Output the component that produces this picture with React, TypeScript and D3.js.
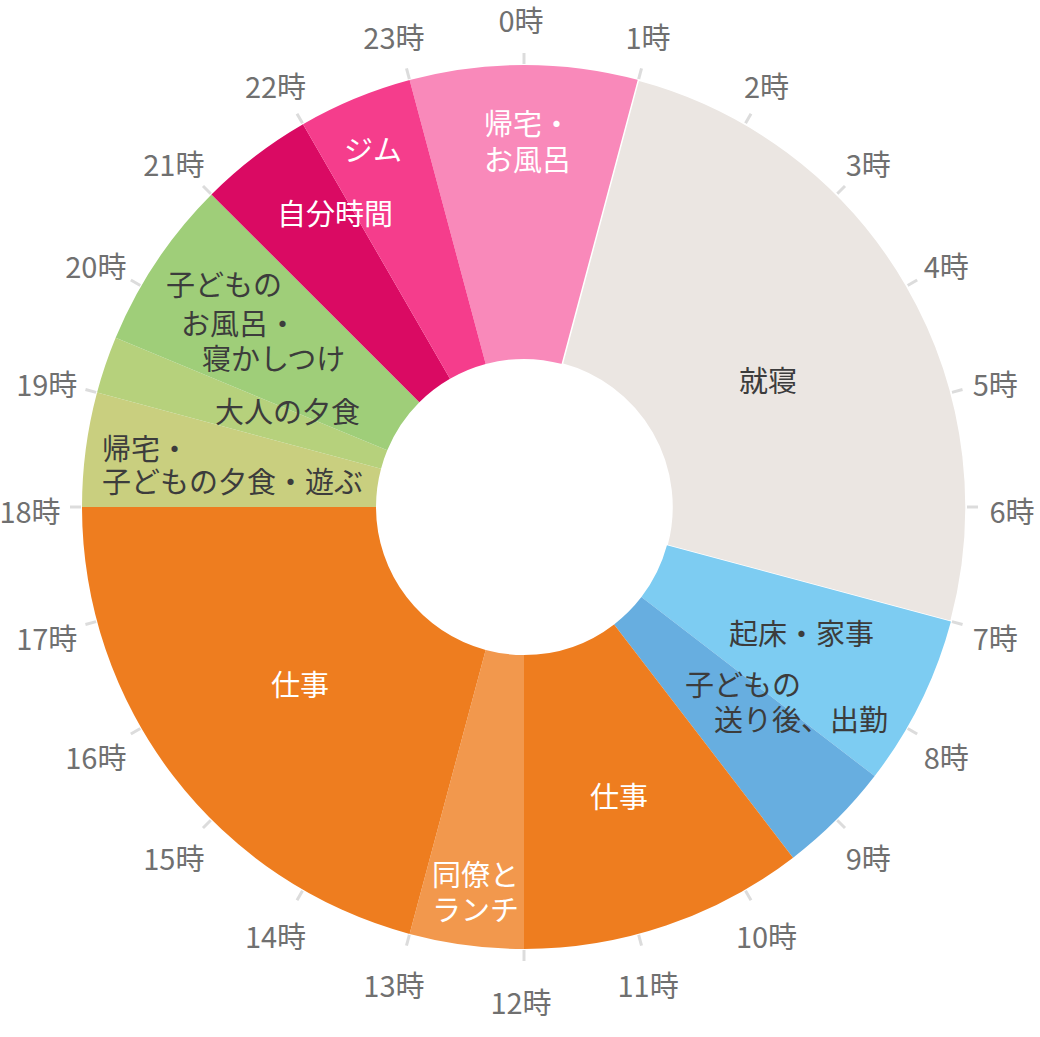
import React, { useEffect, useRef } from "react";
import * as d3 from "d3";

// activities around the clock, starting at 23時
const activities = [
  "帰宅・お風呂",
  "就寝",
  "起床・家事",
  "子どもの送り後、出勤",
  "仕事",
  "同僚とランチ",
  "仕事",
  "帰宅・子どもの夕食・遊ぶ",
  "大人の夕食",
  "子どものお風呂・寝かしつけ",
  "自分時間",
  "ジム",
];
const durations = [2, 6, 1.5, 1, 2.5, 1, 5, 1, 0.5, 1.5, 1, 1];
const dayStart = 23;
const hours = d3.range(24);
const hourLabels = hours.map((h) => `${h}時`);

const colors = [
  "#f989ba",
  "#ebe6e2",
  "#7dccf2",
  "#67aee0",
  "#ee7d1f",
  "#f2984d",
  "#ee7d1f",
  "#c9cf7f",
  "#b6d17c",
  "#9fce79",
  "#da0a63",
  "#f53d8c",
];
const whiteText = [true, false, false, false, true, true, true, false, false, false, true, true];

// hand placed label lines (offset from centre, text-anchor start)
const labelLines: { lines: string[]; dx: number[]; dy: number[] }[] = [
  { lines: ["帰宅・", "お風呂"], dx: [-40, -40], dy: [-385, -349] },
  { lines: ["就寝"], dx: [215], dy: [-128] },
  { lines: ["起床・家事"], dx: [205], dy: [125] },
  { lines: ["子どもの", "送り後、出勤"], dx: [161, 190], dy: [176, 211] },
  { lines: ["仕事"], dx: [66], dy: [288] },
  { lines: ["同僚と", "ランチ"], dx: [-92, -92], dy: [366, 401] },
  { lines: ["仕事"], dx: [-253], dy: [176] },
  { lines: ["帰宅・", "子どもの夕食・遊ぶ"], dx: [-422, -422], dy: [-60, -27] },
  { lines: ["大人の夕食"], dx: [-309], dy: [-97] },
  { lines: ["子どもの", "お風呂・", "寝かしつけ"], dx: [-358, -343, -322], dy: [-224, -185, -150] },
  { lines: ["自分時間"], dx: [-247], dy: [-295] },
  { lines: ["ジム"], dx: [-180], dy: [-359] },
];

const width = 1040;
const height = 1037;
const cx = 524;
const cy = 507;
const outerR = 442;
const innerR = 148;
const font = "'Noto Sans CJK JP', 'Noto Sans', sans-serif";

const App: React.FC = () => {
  const svgRef = useRef<SVGSVGElement | null>(null);

  useEffect(() => {
    const svg = d3.select(svgRef.current);
    svg.selectAll("*").remove();

    const angle = d3.scaleLinear().domain([0, 24]).range([0, 2 * Math.PI]);

    const pie = d3
      .pie<number>()
      .value((d) => d)
      .sort(null)
      .startAngle(angle(dayStart) - 2 * Math.PI)
      .endAngle(angle(dayStart));

    const arc = d3
      .arc<d3.PieArcDatum<number>>()
      .innerRadius(innerR)
      .outerRadius(outerR);

    const g = svg.append("g").attr("transform", `translate(${cx},${cy})`);

    // hour ticks
    g.selectAll(".tick")
      .data(hours)
      .enter()
      .append("line")
      .attr("x1", (h) => Math.sin(angle(h)) * (outerR + 1))
      .attr("y1", (h) => -Math.cos(angle(h)) * (outerR + 1))
      .attr("x2", (h) => Math.sin(angle(h)) * (outerR + 12))
      .attr("y2", (h) => -Math.cos(angle(h)) * (outerR + 12))
      .attr("stroke", "#dcdcdc")
      .attr("stroke-width", 3);

    g.selectAll(".slice")
      .data(pie(durations))
      .enter()
      .append("path")
      .attr("d", arc)
      .attr("fill", (d, i) => colors[i])
      .attr("stroke", (d, i) => (i === 1 ? "#fff" : "none"))
      .attr("stroke-width", 1.5);

    // hour labels, on a ring slightly offset from the pie centre
    const labelR = 491;
    g.append("g")
      .attr("transform", "translate(-3,3)")
      .selectAll(".hour")
      .data(hours)
      .enter()
      .append("text")
      .text((h) => hourLabels[h])
      .attr("x", (h) => Math.sin(angle(h)) * labelR)
      .attr("y", (h) => -Math.cos(angle(h)) * labelR)
      .attr("font-family", font)
      .attr("font-size", 29)
      .attr("fill", "#707070")
      .attr("text-anchor", "middle")
      .attr("dominant-baseline", "central");

    // slice labels
    labelLines.forEach((lab, i) => {
      lab.lines.forEach((line, j) => {
        g.append("text")
          .text(line)
          .attr("x", lab.dx[j])
          .attr("y", lab.dy[j])
          .attr("font-family", font)
          .attr("font-size", 29)
          .attr("fill", whiteText[i] ? "#ffffff" : "#3c3c3c")
          .attr("dominant-baseline", "central")
          .attr("text-anchor", "start");
      });
    });
  }, []);

  return (
    <div style={{ position: "absolute", left: 0, top: 0, background: "#fff" }}>
      <svg ref={svgRef} width={width} height={height}></svg>
    </div>
  );
};

export default App;
